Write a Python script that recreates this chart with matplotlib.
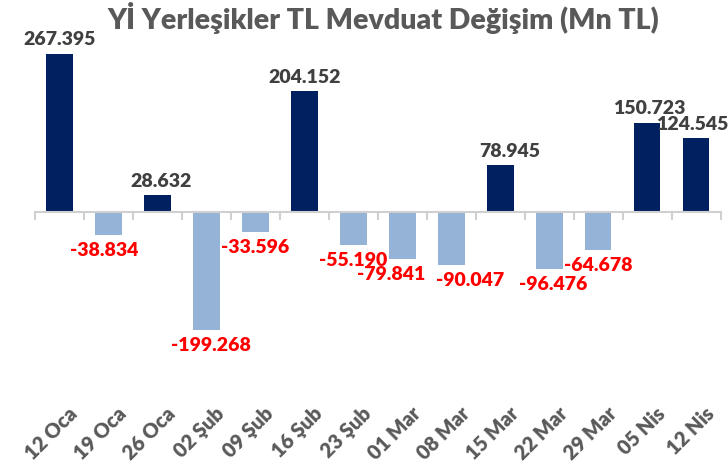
import numpy as np
import matplotlib.pyplot as plt
import matplotlib.transforms as mtransforms

plt.rcParams['font.family'] = ['Lato', 'DejaVu Sans']

# Data
dates = ['12 Oca', '19 Oca', '26 Oca', '02 Şub', '09 Şub', '16 Şub', '23 Şub',
         '01 Mar', '08 Mar', '15 Mar', '22 Mar', '29 Mar', '05 Nis', '12 Nis']
values = [267.395, -38.834, 28.632, -199.268, -33.596, 204.152, -55.190,
          -79.841, -90.047, 78.945, -96.476, -64.678, 150.723, 124.545]

# horizontal nudges (px) for the value labels, as placed in the reference
label_dx = [0, -4, 4, 5, 0, 0, 0, -11, 19, 9, 4, 0, 2, -4]

pos_color = '#002060'
neg_color = '#95B3D7'
text_gray = '#595959'
weight = 'heavy'

fig = plt.figure(figsize=(7.28, 4.75), dpi=100)
ax = fig.add_axes([0.048, 1 - 395 / 475, 0.942, (395 - 50) / 475])

x = np.arange(len(values))
colors = [pos_color if v >= 0 else neg_color for v in values]
ax.bar(x, values, width=0.54, color=colors, zorder=2)

ax.set_xlim(-0.5, len(values) - 0.5)
ax.set_ylim(-309, 274)

# value labels
for i, v in enumerate(values):
    label = f'{v:.3f}'
    dx = label_dx[i] * 0.72
    if v >= 0:
        ax.annotate(label, (i, v), xytext=(dx, 4), textcoords='offset points',
                    ha='center', va='bottom', fontsize=14, fontweight=weight,
                    color='#404040')
    else:
        ax.annotate(label, (i, v), xytext=(dx, -5), textcoords='offset points',
                    ha='center', va='top', fontsize=14, fontweight=weight,
                    color='#FF0000')

# axes styling
for s in ['top', 'right', 'left']:
    ax.spines[s].set_visible(False)
ax.spines['bottom'].set_position(('data', 0))
ax.spines['bottom'].set_color('#D0D0D0')
ax.spines['bottom'].set_linewidth(1.5)
ax.set_yticks([])

ax.set_xticks(x)
ax.set_xticklabels(dates)
ax.set_xticks(np.arange(-0.5, len(values)), minor=True)
ax.tick_params(axis='x', which='major', length=0, pad=138)
ax.tick_params(axis='x', which='minor', length=6, width=1.5, color='#D0D0D0')

offset = mtransforms.ScaledTranslation(6 / 72, 0, fig.dpi_scale_trans)
for lbl in ax.get_xticklabels():
    lbl.set_rotation(45)
    lbl.set_ha('right')
    lbl.set_rotation_mode('anchor')
    lbl.set_fontsize(14.5)
    lbl.set_fontweight(weight)
    lbl.set_color(text_gray)
    lbl.set_transform(lbl.get_transform() + offset)

fig.text(0.527, 0.962, 'Yİ Yerleşikler TL Mevduat Değişim (Mn TL)', ha='center', va='center',
         fontsize=20.5, fontweight=weight, color=text_gray)

fig.savefig('out.png', dpi=100)
